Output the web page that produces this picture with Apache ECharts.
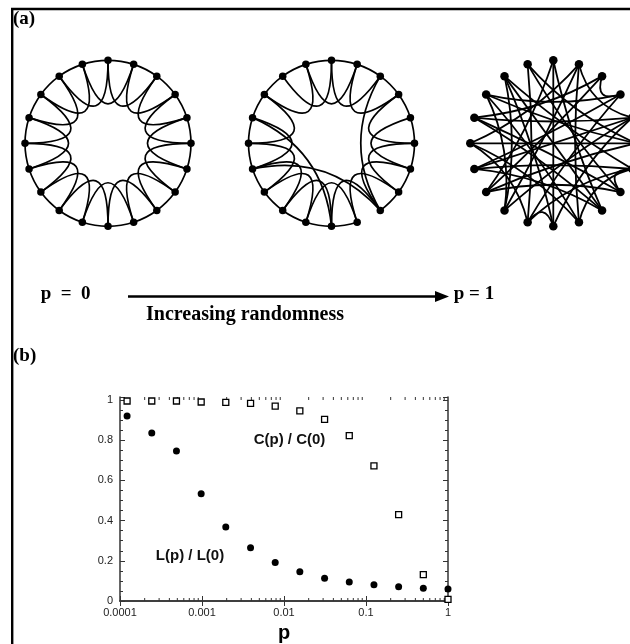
<!DOCTYPE html>
<html><head><meta charset="utf-8">
<script src="https://cdn.jsdelivr.net/npm/echarts@6/dist/echarts.min.js"></script>
<style>html,body{margin:0;padding:0;background:#fff}#c{width:630px;height:644px}</style>
</head><body><div id="c"></div>
<script>
// ---------- panel (a): ring networks (20 nodes, k = 4) ----------
const nodeAngles = [0, 18, 36, 54, 72, 90, 108, 126, 144, 162, 180, 198, 216, 234, 252, 270, 288, 306, 324, 342];
const regularEdges = [
  [0,1],[1,2],[2,3],[3,4],[4,5],[5,6],[6,7],[7,8],[8,9],[9,10],[10,11],[11,12],[12,13],[13,14],[14,15],[15,16],[16,17],[17,18],[18,19],[19,0],
  [0,2],[1,3],[2,4],[3,5],[4,6],[5,7],[6,8],[7,9],[8,10],[9,11],[10,12],[11,13],[12,14],[13,15],[14,16],[15,17],[16,18],[17,19],[18,0],[19,1]
];
const smallWorldEdges = [
  [0,1],[1,2],[2,3],[3,4],[4,5],[5,6],[6,7],[7,8],[8,14],[9,10],[10,11],[11,12],[12,13],[13,14],[14,15],[15,16],[16,17],[17,18],[18,19],[19,0],
  [0,2],[1,3],[2,8],[3,5],[4,6],[5,7],[6,8],[7,9],[8,10],[9,11],[10,12],[11,13],[12,14],[13,15],[14,16],[15,17],[16,10],[17,19],[18,0],[19,1]
];
const randomEdges = [
  [0,10],[0,8],[0,13],[19,11],[19,7],[19,5],[1,9],[1,12],[1,15],[2,3],
  [2,13],[2,16],[3,11],[3,14],[3,17],[18,6],[18,8],[18,12],[17,5],[17,9],
  [16,4],[16,7],[15,5],[15,9],[14,4],[14,6],[13,5],[12,4],[11,10],[11,6],
  [10,4],[10,18],[9,6],[8,14],[8,16],[7,6],[7,13],[12,17],[1,4],[11,15]
];

// ---------- panel (b): normalised C(p) and L(p) ----------
const pValues = [0.000122, 0.000244, 0.000488, 0.000977, 0.00195, 0.00391, 0.00781, 0.0156, 0.03125, 0.0625, 0.125, 0.25, 0.5, 1];
const clusteringRatio = [0.995, 0.995, 0.995, 0.99, 0.988, 0.983, 0.97, 0.946, 0.904, 0.823, 0.672, 0.43, 0.131, 0.008];
const pathLengthRatio = [0.92, 0.836, 0.746, 0.533, 0.368, 0.265, 0.192, 0.145, 0.113, 0.094, 0.081, 0.071, 0.063, 0.06];
const minorMantissas = [2, 3, 4, 5, 6, 7, 8, 9];
const minorDecades = [0.0001, 0.001, 0.01, 0.1];

const SERIF = '"Liberation Serif","Times New Roman",serif';
const SANS = '"Liberation Sans",Arial,Helvetica,sans-serif';

// curve bow (style): fraction of the way toward the ring centre for the control point
function bow(a, b, rule) {
  const d = ((nodeAngles[b] - nodeAngles[a]) % 360 + 360) % 360;
  const span = Math.min(d, 360 - d);
  const k = rule(span);
  const h = span * Math.PI / 360;
  const mag = k * Math.cos(h) / (2 * Math.sin(h));
  return d <= 180 ? -mag : mag;
}
const latticeRule = s => s <= 18 ? -0.025 : (s <= 36 ? 1.0 : 0.8);
const randomRule = s => 0.3;

function ringSeries(idx, edges, rule, size, width) {
  return {
    type: 'graph', coordinateSystem: 'polar', polarIndex: idx, layout: 'none',
    symbol: 'circle', symbolSize: size, silent: true,
    itemStyle: { color: '#000', opacity: 1 },
    lineStyle: { color: '#000', width: width, opacity: 1 },
    label: { show: false }, emphasis: { disabled: true },
    data: nodeAngles.map(a => ({ value: [1, a] })),
    links: edges.map(([s, t]) => ({ source: s, target: t, lineStyle: { curveness: bow(s, t, rule) } }))
  };
}

const polarCenters = [[108, 143.3], [331.5, 143.3], [553.3, 143.3]];
const chart = echarts.init(document.getElementById('c'), null, { renderer: 'canvas' });

const yMax = 1.015;
const axisColor = '#333';
const option = {
  animation: false,
  backgroundColor: '#fff',
  polar: polarCenters.map(c => ({ center: c, radius: 83 })),
  angleAxis: [0, 1, 2].map(i => ({ polarIndex: i, type: 'value', min: 0, max: 360, startAngle: 90, clockwise: true, show: false })),
  radiusAxis: [0, 1, 2].map(i => ({ polarIndex: i, type: 'value', min: 0, max: 1, show: false })),
  grid: { left: 120, right: 182, top: 397, bottom: 38, containLabel: false },
  xAxis: [
    { type: 'log', logBase: 10, min: 0.0001, max: 1, position: 'bottom',
      axisLine: { lineStyle: { color: axisColor, width: 1.5 } },
      axisTick: { inside: true, length: 5, lineStyle: { color: axisColor } },
      splitLine: { show: false },
      axisLabel: { margin: 6, color: '#222', fontFamily: SANS, fontSize: 11,
        formatter: v => String(+(+v).toPrecision(3)) },
      name: 'p', nameLocation: 'middle', nameGap: 22,
      nameTextStyle: { fontFamily: SANS, fontSize: 20, fontWeight: 'bold', color: '#000' } },
    { type: 'log', logBase: 10, min: 0.0001, max: 1, position: 'top',
      axisLine: { lineStyle: { color: axisColor, width: 1.5 } },
      axisTick: { inside: true, length: 5, lineStyle: { color: axisColor } },
      splitLine: { show: false }, axisLabel: { show: false } }
  ],
  yAxis: [
    { type: 'value', min: 0, max: yMax, interval: 0.2, position: 'left',
      axisLine: { show: true, lineStyle: { color: axisColor, width: 1.5 } },
      axisTick: { show: true, inside: true, length: 5, lineStyle: { color: axisColor } },
      minorTick: { show: true, splitNumber: 4, length: 3, lineStyle: { color: axisColor } },
      splitLine: { show: false },
      axisLabel: { margin: 7, color: '#222', fontFamily: SANS, fontSize: 11,
        formatter: v => (Math.abs(v * 5 - Math.round(v * 5)) < 1e-6 ? String(+v.toFixed(1)) : '') } },
    { type: 'value', min: 0, max: yMax, interval: 0.2, position: 'right',
      axisLine: { show: true, lineStyle: { color: axisColor, width: 1.5 } },
      axisTick: { show: true, inside: true, length: 5, lineStyle: { color: axisColor } },
      minorTick: { show: true, splitNumber: 4, length: 3, lineStyle: { color: axisColor } },
      splitLine: { show: false }, axisLabel: { show: false } }
  ],
  series: [
    ringSeries(0, regularEdges, latticeRule, 7.5, 1.7),
    ringSeries(1, smallWorldEdges, latticeRule, 7.5, 1.7),
    ringSeries(2, randomEdges, randomRule, 8.5, 1.8),
    { type: 'scatter', name: 'L(p) / L(0)', xAxisIndex: 0, yAxisIndex: 0, clip: false,
      symbol: 'circle', symbolSize: 7, itemStyle: { color: '#000', opacity: 1 },
      data: pValues.map((p, i) => [p, pathLengthRatio[i]]) },
    { type: 'scatter', name: 'C(p) / C(0)', xAxisIndex: 0, yAxisIndex: 0, clip: false,
      symbol: 'rect', symbolSize: 6, itemStyle: { color: '#fff', borderColor: '#000', borderWidth: 1.3, opacity: 1 },
      data: pValues.map((p, i) => [p, clusteringRatio[i]]) }
  ],
  graphic: [
    { type: 'line', id: 'frameTop', silent: true, shape: { x1: 11, y1: 9, x2: 630, y2: 9 }, style: { stroke: '#000', lineWidth: 2.5 } },
    { type: 'line', id: 'frameLeft', silent: true, shape: { x1: 12.2, y1: 8, x2: 12.2, y2: 644 }, style: { stroke: '#000', lineWidth: 2.4 } },
    { type: 'text', id: 'ta', x: 13, y: 19, style: { text: '(a)', font: 'bold 19px ' + SERIF, fill: '#000', textAlign: 'left', textVerticalAlign: 'middle' } },
    { type: 'text', id: 'tb', x: 13, y: 356.5, style: { text: '(b)', font: 'bold 19px ' + SERIF, fill: '#000', textAlign: 'left', textVerticalAlign: 'middle' } },
    { type: 'text', id: 'p0', x: 65.6, y: 294, style: { text: 'p  =  0', font: 'bold 19px ' + SERIF, fill: '#000', textAlign: 'center', textVerticalAlign: 'middle' } },
    { type: 'text', id: 'p1', x: 474, y: 294, style: { text: 'p = 1', font: 'bold 19px ' + SERIF, fill: '#000', textAlign: 'center', textVerticalAlign: 'middle' } },
    { type: 'text', id: 'inc', x: 245, y: 315, style: { text: 'Increasing randomness', font: 'bold 20px ' + SERIF, fill: '#000', textAlign: 'center', textVerticalAlign: 'middle' } },
    { type: 'line', id: 'arrowLine', silent: true, shape: { x1: 128, y1: 296.5, x2: 438, y2: 296.5 }, style: { stroke: '#000', lineWidth: 2.5 } },
    { type: 'polygon', id: 'arrowHead', silent: true, shape: { points: [[449, 296.5], [435, 291], [435, 302]] }, style: { fill: '#000' } },
    { type: 'text', id: 'cLab', x: 289.5, y: 440, style: { text: 'C(p) / C(0)', font: 'bold 15px ' + SANS, fill: '#111', textAlign: 'center', textVerticalAlign: 'middle' } },
    { type: 'text', id: 'lLab', x: 190, y: 556, style: { text: 'L(p) / L(0)', font: 'bold 15px ' + SANS, fill: '#111', textAlign: 'center', textVerticalAlign: 'middle' } }
  ]
};
chart.setOption(option);

// log-axis minor ticks (bottom and top), positioned through the axis scale
const yBottom = chart.convertToPixel({ yAxisIndex: 0 }, 0);
const yTop = chart.convertToPixel({ yAxisIndex: 0 }, yMax);
const minorTicks = [];
minorDecades.forEach(d => minorMantissas.forEach(m => {
  const x = chart.convertToPixel({ xAxisIndex: 0 }, d * m);
  minorTicks.push({ type: 'line', id: 'mb' + d + '_' + m, silent: true, shape: { x1: x, y1: yBottom, x2: x, y2: yBottom - 3 }, style: { stroke: axisColor, lineWidth: 1 } });
  minorTicks.push({ type: 'line', id: 'mt' + d + '_' + m, silent: true, shape: { x1: x, y1: yTop, x2: x, y2: yTop + 3 }, style: { stroke: axisColor, lineWidth: 1 } });
}));
chart.setOption({ graphic: minorTicks });
</script>
</body></html>
